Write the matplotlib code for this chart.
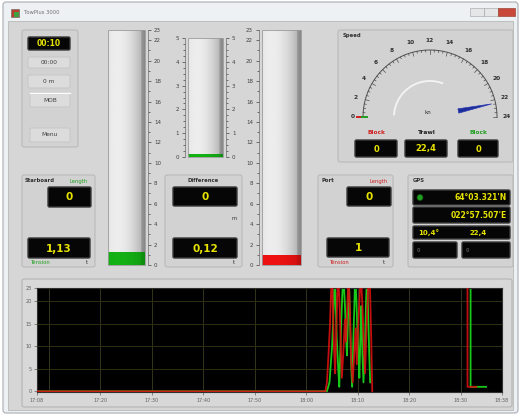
import numpy as np
import matplotlib.pyplot as plt
from matplotlib.patches import FancyBboxPatch, Rectangle, Polygon

W, H = 521, 416

# front panel readings
clock_text = '00:10'
timer_text = '00:00'
depth_text = '0 m'
speed_value = 22.4
speed_ticks = [0, 2, 4, 6, 8, 10, 12, 14, 16, 18, 20, 22, 24]
block_port = '0'
trawl_speed = '22,4'
block_stb = '0'
stb_length, stb_tension = '0', '1,13'
diff_length, diff_tension = '0', '0,12'
port_length, port_tension = '0', '1'
gps_lat = "64°03.321'N"
gps_lon = "022°57.507'E"
gps_course = '10,4°'
gps_speed = '22,4'
gps_extra = ['0', '0']

# tank levels
stb_level = 1.3
port_level = 1.0
diff_level = 0.12
tank_ticks = [0, 2, 4, 6, 8, 10, 12, 14, 16, 18, 20, 22, 23]
diff_ticks = [0, 1, 2, 3, 4, 5]

# tension history, minutes from chart start
green_t = [0, 56.3, 56.8, 57.3, 57.6, 57.8, 58.0, 58.2, 58.5, 58.7, 58.9, 59.1, 59.3, 59.5, 59.8,
           60.0, 60.2, 60.4, 60.6, 60.8, 61.0, 61.2, 61.4, 61.6, 61.8, 62.0, 62.2, 62.4, 62.6,
           62.8, 63.0, 63.2, 63.4, 63.7, 63.9, 64.1, 64.3, 64.5, 64.7, np.nan, 84.2, 84.2, 87.2]
green_v = [0, 0, 2, 10, 18, 26, 20, 12, 5, 1, 9, 16, 22, 26, 19,
           13, 8, 17, 24, 15, 6, 1, 10, 18, 26, 21, 14, 9, 3,
           12, 19, 8, 2, 11, 20, 26, 18, 9, 2, np.nan, 26, 1, 1]
red_t = [0, 56.0, 56.3, 56.6, 56.9, 57.1, 57.3, 57.5, 57.7, 57.9, 58.1, 58.3, 58.5, 58.8, 59.0,
         59.2, 59.5, 59.8, 60.0, 60.3, 60.5, 60.8, 61.0, 61.3, 61.6, 61.9, 62.1, 62.4, 62.7,
         62.9, 63.2, 63.4, 63.7, 64.0, 64.3, 64.6, 64.9, 65.1, np.nan, 83.6, 83.6, 85.3]
red_v = [0, 0, 2, 8, 15, 22, 26, 17, 9, 4, 13, 21, 26, 18, 10,
         3, 9, 16, 11, 20, 26, 17, 7, 2, 8, 14, 6, 15, 22,
         26, 19, 12, 4, 14, 23, 26, 12, 0, np.nan, 26, 1, 1]
time_ticks = [0, 12.3, 22.3, 32.3, 42.3, 52.3, 62.3, 72.3, 82.3, 90.3]
time_labels = ['17:08', '17:20', '17:30', '17:40', '17:50', '18:00', '18:10', '18:20', '18:30', '18:38']
grid_t = [2.3, 12.3, 22.3, 32.3, 42.3, 52.3, 62.3, 72.3, 82.3]
chart_ticks = [0, 5, 10, 15, 20, 23]


def px(x0, y0, x1, y1):
    return [x0 / W, 1 - y1 / H, (x1 - x0) / W, (y1 - y0) / H]


fig = plt.figure(figsize=(W / 100, H / 100), dpi=100, facecolor='white')
bg = fig.add_axes([0, 0, 1, 1])
bg.set_xlim(0, W)
bg.set_ylim(H, 0)
bg.axis('off')


def rbox(x0, y0, x1, y1, fc, ec, lw=0.8, r=2, z=1):
    bg.add_patch(FancyBboxPatch((x0, y0), x1 - x0, y1 - y0,
                                boxstyle='round,pad=0,rounding_size=%s' % r,
                                fc=fc, ec=ec, lw=lw, zorder=z))


def txt(x, y, s, size=4.5, color='#303030', ha='left', weight='normal', z=5):
    bg.text(x, y, s, fontsize=size, color=color, ha=ha, va='center', fontweight=weight, zorder=z)


def display(x0, y0, x1, y1, s, size=7.5, ha='center', color='#e8e400'):
    rbox(x0, y0, x1, y1, '#060606', '#3a3a3a', lw=1.0, r=1.5, z=3)
    if ha == 'center':
        x = (x0 + x1) / 2
    elif ha == 'right':
        x = x1 - 3
    else:
        x = x0 + 4
    txt(x, (y0 + y1) / 2 + 0.5, s, size=size, color=color, ha=ha, weight='bold')


def button(x0, y0, x1, y1, s):
    rbox(x0, y0, x1, y1, '#dcdcdc', '#c4c4c4', lw=0.6, r=1.5, z=3)
    txt((x0 + x1) / 2, (y0 + y1) / 2, s, size=4.2, color='#404040', ha='center')


# window frame and title bar
rbox(3, 2, 518, 413, '#eef1f4', '#a8adb3', lw=0.8, r=3, z=0)
bg.add_patch(Rectangle((8, 21), 505, 389, fc='#d6d6d6', ec='#b8b8b8', lw=0.6, zorder=0.5))
bg.add_patch(Rectangle((11, 9), 8, 8, fc='#b84030', ec='#606060', lw=0.4, zorder=2))
bg.add_patch(Rectangle((14, 12), 5, 5, fc='#40a040', ec='none', zorder=2))
txt(24, 12.5, 'TowPlus 3000', size=3.8, color='#707070')
bg.add_patch(Rectangle((470, 8), 14, 8, fc='#e4e6e8', ec='#a0a0a0', lw=0.4, zorder=2))
bg.add_patch(Rectangle((484, 8), 14, 8, fc='#e4e6e8', ec='#a0a0a0', lw=0.4, zorder=2))
bg.add_patch(Rectangle((498, 8), 17, 8, fc='#c8483a', ec='#903020', lw=0.4, zorder=2))

# top-left control panel
rbox(22, 30, 78, 147, '#d2d2d2', '#bababa')
display(28, 37, 70, 50, clock_text, size=5.5)
button(28, 57, 70, 68, timer_text)
button(28, 75, 70, 88, depth_text)
bg.plot([30, 70], [93, 93], color='white', lw=1, zorder=4)
button(30, 94, 70, 107, 'MOB')
button(30, 128, 70, 142, 'Menu')

# speed gauge
rbox(338, 30, 513, 162, '#d2d2d2', '#bababa')
txt(343, 36, 'Speed', size=3.8, weight='bold')
cx, cy, R = 430, 117, 67
vmax = speed_ticks[-1]
a = np.linspace(np.pi, 0, 200)
bg.plot(cx + R * np.cos(a), cy - R * np.sin(a), color='#505050', lw=0.7, zorder=3)
for v in np.arange(0, vmax + 0.01, 0.5):
    ang = np.pi * (1 - v / vmax)
    L = 4 if v % 2 == 0 else 2
    bg.plot([cx + R * np.cos(ang), cx + (R - L) * np.cos(ang)],
            [cy - R * np.sin(ang), cy - (R - L) * np.sin(ang)], color='#505050', lw=0.5, zorder=3)
for v in speed_ticks:
    ang = np.pi * (1 - v / vmax)
    txt(cx + 77 * np.cos(ang), cy - 77 * np.sin(ang), str(v), size=4.2, ha='center', weight='bold')
bg.plot([357, 362], [117, 117], color='#d02020', lw=1.4, zorder=4)
bg.plot([362, 367], [117, 117], color='#20a020', lw=1.4, zorder=4)
a2 = np.radians(np.linspace(70, 176, 80))
bg.plot(cx + 36 * np.cos(a2), cy - 36 * np.sin(a2), color='#f4f4f4', lw=1.3, zorder=3)
txt(cx - 2, 112, 'kn', size=4, ha='center')
ang = np.pi * (1 - speed_value / vmax)
ux, uy = np.cos(ang), -np.sin(ang)
nx, ny = -uy, ux
needle = [(cx + 29 * ux + 2.2 * nx, cy + 29 * uy + 2.2 * ny),
          (cx + 63 * ux, cy + 63 * uy),
          (cx + 29 * ux - 2.2 * nx, cy + 29 * uy - 2.2 * ny)]
bg.add_patch(Polygon(needle, closed=True, fc='#1c2c9c', ec='#2a3ab0', lw=0.5, zorder=5))
txt(377, 133, 'Block', size=4.2, color='#d02020', ha='center', weight='bold')
txt(427, 133, 'Trawl', size=4.2, color='#202020', ha='center', weight='bold')
txt(478, 133, 'Block', size=4.2, color='#20a020', ha='center', weight='bold')
display(355, 140, 397, 157, block_port, size=6)
display(405, 140, 447, 157, trawl_speed, size=6)
display(458, 140, 498, 157, block_stb, size=6)

# starboard panel
rbox(22, 175, 95, 267, '#d2d2d2', '#bababa')
txt(25, 181, 'Starboard', size=3.8, weight='bold')
txt(88, 181, 'Length', size=3.8, color='#20a020', ha='right')
display(48, 187, 91, 207, stb_length)
display(28, 238, 90, 258, stb_tension)
txt(31, 263, 'Tension', size=3.8, color='#20a020')
txt(86, 263, 't', size=3.8)

# difference panel
rbox(165, 175, 242, 267, '#d2d2d2', '#bababa')
txt(203, 181, 'Difference', size=3.8, ha='center', weight='bold')
display(173, 187, 237, 206, diff_length)
txt(232, 219, 'm', size=3.8)
display(173, 238, 237, 258, diff_tension)
txt(233, 263, 't', size=3.8)

# port panel
rbox(318, 175, 393, 267, '#d2d2d2', '#bababa')
txt(322, 181, 'Port', size=3.8, weight='bold')
txt(388, 181, 'Length', size=3.8, color='#d02020', ha='right')
display(347, 187, 391, 206, port_length)
display(327, 238, 389, 257, port_tension)
txt(330, 263, 'Tension', size=3.8, color='#d02020')
txt(383, 263, 't', size=3.8)

# gps panel
rbox(408, 175, 513, 267, '#d2d2d2', '#bababa')
txt(413, 181, 'GPS', size=3.8, weight='bold')
display(413, 190, 510, 205, gps_lat, size=5.5, ha='right')
bg.add_patch(plt.Circle((420, 197.5), 3, fc='#20a020', ec='#105010', lw=0.5, zorder=5))
display(413, 207, 510, 223, gps_lon, size=5.5, ha='right')
rbox(413, 226, 510, 239, '#060606', '#3a3a3a', lw=1.0, r=1.5, z=3)
txt(418, 233, gps_course, size=5, color='#e8e400', weight='bold')
txt(470, 233, gps_speed, size=5, color='#e8e400', weight='bold')
display(413, 242, 457, 258, gps_extra[0], size=3.5, ha='left', color='#505050')
display(462, 242, 510, 258, gps_extra[1], size=3.5, ha='left', color='#505050')

# chart panel
rbox(22, 279, 512, 407, '#d8d8d8', '#b4b4b4')


def tank(rect, level, vmax, ticks, fill, sides):
    ax = fig.add_axes(px(*rect))
    ax.set_xlim(0, 1)
    ax.set_ylim(0, vmax)
    xs = np.linspace(0, 1, 80)
    prof = 0.93 - 0.28 * (xs - 0.25) ** 2 / 0.56 - 0.12 * (xs > 0.9)
    ax.imshow(prof[None, :], cmap='gray', vmin=0, vmax=1, extent=(0, 1, 0, vmax),
              aspect='auto', zorder=0)
    bar = ax.bar([0.5], [level], width=1, color=fill, zorder=1)[0]
    rgb = np.array(plt.matplotlib.colors.to_rgb(fill))
    shade = np.clip(rgb[None, None, :] * (0.55 + 0.6 * prof[None, :, None]), 0, 1)
    im = ax.imshow(shade, extent=(0, 1, 0, vmax), aspect='auto', zorder=2)
    im.set_clip_path(bar)
    for s in ax.spines.values():
        s.set_visible(False)
    ax.set_xticks([])
    ax.set_yticks(ticks)
    ax.set_yticks(np.arange(0, vmax + 0.01, 1 if vmax > 10 else 0.25), minor=True)
    ax.tick_params(axis='y', which='both', left='left' in sides, right='right' in sides,
                   labelleft='left' in sides, labelright='right' in sides,
                   colors='#404040', labelsize=4, pad=1.5, length=2.5, width=0.5)
    ax.tick_params(axis='y', which='minor', length=1.5)
    for sd in sides:
        ax.spines[sd].set_visible(True)
        ax.spines[sd].set_position(('outward', 2.5))
        ax.spines[sd].set_color('#707070')
        ax.spines[sd].set_linewidth(0.5)
    ax.add_patch(Rectangle((0, 0), 1, vmax, fill=False, ec='#9a9a9a', lw=0.6,
                           transform=ax.transData, clip_on=False, zorder=3))
    return ax


tank((108, 30, 145, 265), stb_level, 23, tank_ticks, '#12a012', ['right'])
tank((262, 30, 301, 265), port_level, 23, tank_ticks, '#d81010', ['left'])
tank((188, 38, 223, 157), diff_level, 5, diff_ticks, '#12a012', ['left', 'right'])

# tension chart
ax = fig.add_axes(px(37, 288, 502, 392))
ax.set_facecolor('black')
ax.set_xlim(0, 90.3)
ax.set_ylim(-0.15, 23)
for g in grid_t:
    ax.axvline(g, color='#34341a', lw=0.7, zorder=0)
for g in chart_ticks[1:-1]:
    ax.axhline(g, color='#2f2f10', lw=0.7, zorder=0)
ax.plot(green_t, green_v, color='#18c818', lw=1.3, zorder=2)
ax.plot(red_t, red_v, color='#d81010', lw=1.3, alpha=0.9, zorder=3)
ax.set_yticks(chart_ticks)
ax.set_xticks(time_ticks)
ax.set_xticklabels(time_labels)
ax.tick_params(colors='#606060', labelsize=3.5, length=2, width=0.5, pad=2)
for s in ax.spines.values():
    s.set_color('#303030')
    s.set_linewidth(0.8)

fig.savefig('out.png', dpi=100, facecolor='white')
